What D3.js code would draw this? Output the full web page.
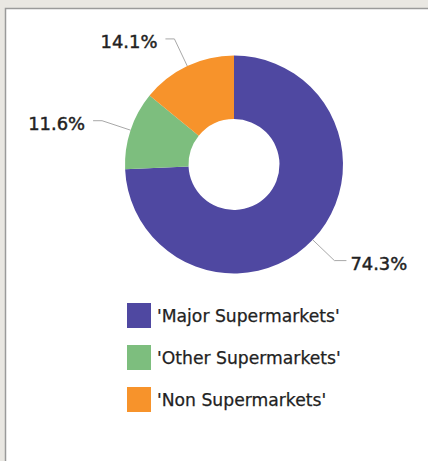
<!DOCTYPE html>
<html>
<head>
<meta charset="utf-8">
<script src="https://cdn.jsdelivr.net/npm/d3@7"></script>
<style>
  html, body { margin: 0; padding: 0; background: #e9e7e2; }
  svg { display: block; }
</style>
</head>
<body>
<svg id="chart" width="428" height="461"></svg>
<script>
// Market share by store type
const categories = ["'Major Supermarkets'", "'Other Supermarkets'", "'Non Supermarkets'"];
const shares = [74.3, 11.6, 14.1];
const colors = ["#4f48a1", "#7dbe7e", "#f7932b"];

const svg = d3.select("#chart");
const W = 428, H = 461;
const FONT = "'DejaVu Sans', Verdana, sans-serif";

// white card with grey frame
svg.append("rect")
  .attr("x", 5.5).attr("y", 8.5)
  .attr("width", W).attr("height", H)
  .attr("fill", "#ffffff")
  .attr("stroke", "#9a9a9a")
  .attr("stroke-width", 1.5);

const cx = 234, cy = 164.5;
const outerR = 109, innerR = 45.5, elbowR = 139;

const data = categories.map((c, i) => ({ name: c, value: shares[i], color: colors[i] }));

const pie = d3.pie().value(d => d.value).sort(null);
const arc = d3.arc().innerRadius(innerR).outerRadius(outerR);
const arcs = pie(data);

const g = svg.append("g").attr("transform", `translate(${cx},${cy})`);

g.selectAll("path.slice")
  .data(arcs)
  .join("path")
  .attr("class", "slice")
  .attr("d", arc)
  .attr("fill", d => d.data.color);

// leader lines and percentage labels
const polar = (r, a) => [r * Math.sin(a), -r * Math.cos(a)];
const fmt = d3.format(".1f");

arcs.forEach(d => {
  const mid = (d.startAngle + d.endAngle) / 2;
  const p0 = polar(outerR, mid);
  const p1 = polar(elbowR, mid);
  const right = Math.sin(mid) > 0;
  const p2 = [p1[0] + (right ? 12 : -9), p1[1]];
  g.append("polyline")
    .attr("points", [p0, p1, p2].map(p => p.join(",")).join(" "))
    .attr("fill", "none")
    .attr("stroke", "#a8a8a8")
    .attr("stroke-width", 1);
  g.append("text")
    .attr("x", p2[0] + (right ? 4 : -8))
    .attr("y", p2[1] + 3)
    .attr("dy", "0.35em")
    .attr("text-anchor", right ? "start" : "end")
    .attr("font-family", FONT)
    .attr("font-size", 17.9)
    .attr("fill", "#222")
    .attr("stroke", "#222")
    .attr("stroke-width", 0.45)
    .text(fmt(d.data.value) + "%");
});

// legend
const legend = svg.append("g").attr("transform", "translate(127,303)");
const item = legend.selectAll("g")
  .data(data)
  .join("g")
  .attr("transform", (d, i) => `translate(0,${i * 42})`);

item.append("rect")
  .attr("width", 24).attr("height", 25)
  .attr("fill", d => d.color);

item.append("text")
  .attr("x", 30).attr("y", 13)
  .attr("dy", "0.35em")
  .attr("font-family", FONT)
  .attr("font-size", 17.2)
  .attr("fill", "#222")
  .attr("stroke", "#222")
  .attr("stroke-width", 0.25)
  .text(d => d.name);
</script>
</body>
</html>
